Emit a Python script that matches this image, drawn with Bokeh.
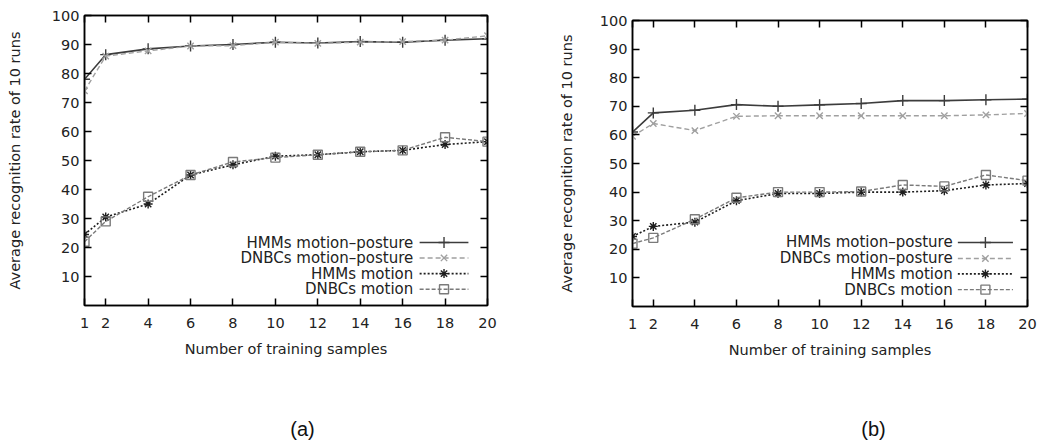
from bokeh.plotting import figure
from bokeh.layouts import row, column
from bokeh.models import FixedTicker, LinearAxis, Range1d, Label, Spacer, CustomJSTickFormatter
from bokeh.core.properties import value
from bokeh.embed import file_html
from bokeh.resources import INLINE

# ---------------- data ----------------
samples = [1, 2, 4, 6, 8, 10, 12, 14, 16, 18, 20]

# panel (a)
a_hmm_motion_posture = [78, 86.5, 88.5, 89.5, 90, 90.8, 90.5, 91, 90.8, 91.5, 92]
a_dnbc_motion_posture = [74, 86, 87.8, 89.5, 89.6, 90.8, 90.4, 90.8, 91, 91.5, 93]
a_hmm_motion = [24.5, 30.5, 35, 45, 48.5, 51.5, 52, 53, 53.5, 55.5, 56.5]
a_dnbc_motion = [22, 29, 37.5, 45, 49.5, 51, 52, 53, 53.5, 58, 56.5]

# panel (b)
b_hmm_motion_posture = [61, 67.7, 68.6, 70.6, 70, 70.5, 71, 72, 72, 72.3, 72.5]
b_dnbc_motion_posture = [59.5, 64, 61.5, 66.5, 66.7, 66.7, 66.7, 66.7, 66.7, 67, 67.5]
b_hmm_motion = [24.5, 28, 29.5, 37, 39.5, 39.5, 40, 40, 40.5, 42.5, 43]
b_dnbc_motion = [22, 24, 30.5, 38, 40, 40, 40.2, 42.5, 42, 46, 44]

series_names = ["HMMs motion–posture", "DNBCs motion–posture", "HMMs motion", "DNBCs motion"]
x_ticks = [1, 2, 4, 6, 8, 10, 12, 14, 16, 18, 20]
y_ticks = [10, 20, 30, 40, 50, 60, 70, 80, 90, 100]
x_label = "Number of training samples"
y_label = "Average recognition rate of 10 runs"
panel_tags = ["(a)", "(b)"]

# ---------------- styles ----------------
STYLES = [
    dict(color="#3c3c3c", dash="solid", marker="cross", size=11, width=1.6),
    dict(color="#a0a0a0", dash="5 3", marker="x", size=9, width=1.4),
    dict(color="#1e1e1e", dash="2 2", marker="asterisk", size=9, width=1.6),
    dict(color="#7a7a7a", dash="4 2", marker="square", size=9, width=1.4),
]
FONT = "DejaVu Sans"
TEXT_COLOR = "#222222"


def blank_formatter():
    return CustomJSTickFormatter(code="return ''")


def make_panel(series, lay):
    p = figure(width=lay["width"], height=lay["height"],
               min_border_left=lay["bl"], min_border_right=lay["br"],
               min_border_top=lay["bt"], min_border_bottom=lay["bb"],
               x_range=Range1d(1, 20), y_range=Range1d(0, 100),
               output_backend="svg", toolbar_location=None)
    p.background_fill_color = "white"
    p.border_fill_color = "white"
    p.outline_line_color = "black"
    p.outline_line_width = 1.5
    p.xgrid.visible = False
    p.ygrid.visible = False

    for ax, ticks in ((p.xaxis[0], x_ticks), (p.yaxis[0], y_ticks)):
        ax.ticker = FixedTicker(ticks=ticks)
        ax.major_tick_in = 7
        ax.major_tick_out = 0
        ax.minor_tick_line_color = None
        ax.axis_line_color = "black"
        ax.axis_line_width = 1.5
        ax.major_tick_line_color = "black"
        ax.major_tick_line_width = 1.5
        ax.major_label_text_font = FONT
        ax.major_label_text_font_size = "14.5px"
        ax.major_label_text_color = TEXT_COLOR
        ax.axis_label_text_font = FONT
        ax.axis_label_text_font_size = "14.5px"
        ax.axis_label_text_font_style = "normal"
        ax.axis_label_text_color = TEXT_COLOR
    p.xaxis[0].axis_label = x_label
    p.xaxis[0].major_label_standoff = 12
    p.xaxis[0].axis_label_standoff = 10
    p.yaxis[0].axis_label = y_label
    p.yaxis[0].major_label_standoff = 5
    p.yaxis[0].axis_label_standoff = lay["ylab_standoff"]

    # mirrored tick marks on top and right
    top = LinearAxis(ticker=FixedTicker(ticks=x_ticks), formatter=blank_formatter(),
                     major_tick_in=7, major_tick_out=0, minor_tick_line_color=None,
                     major_label_standoff=0, axis_line_width=1.5, major_tick_line_width=1.5)
    right = LinearAxis(ticker=FixedTicker(ticks=y_ticks), formatter=blank_formatter(),
                       major_tick_in=7, major_tick_out=0, minor_tick_line_color=None,
                       major_label_standoff=0, axis_line_width=1.5, major_tick_line_width=1.5)
    p.add_layout(top, "above")
    p.add_layout(right, "right")

    for ys, st in zip(series, STYLES):
        p.line(samples, ys, line_color=st["color"], line_dash=st["dash"], line_width=st["width"])
        p.scatter(samples, ys, marker=st["marker"], size=st["size"], line_color=st["color"],
                  fill_color=None, line_width=1.4)

    # legend (text right-aligned, sample on the right)
    for name, st, ly in zip(series_names, STYLES, lay["leg_y"]):
        p.add_layout(Label(x=lay["leg_text_x"], y=ly, text=name, text_align="right",
                           text_baseline="middle", text_font=FONT, text_font_size="15px",
                           text_color=TEXT_COLOR))
        p.line([lay["leg_x0"], lay["leg_x1"]], [ly, ly], line_color=st["color"],
               line_dash=st["dash"], line_width=st["width"])
        p.scatter([(lay["leg_x0"] + lay["leg_x1"]) / 2], [ly], marker=st["marker"],
                  size=st["size"], line_color=st["color"], fill_color=None, line_width=1.4)
    return p


def make_tag(text, width, cx):
    t = figure(width=width, height=48, x_range=Range1d(0, width), y_range=Range1d(0, 48),
               x_axis_type=None, y_axis_type=None, min_border=0,
               output_backend="svg", toolbar_location=None)
    t.outline_line_color = None
    t.background_fill_color = "white"
    t.border_fill_color = "white"
    t.text(x=[cx], y=[20], text=[text], text_align="center", text_baseline="middle",
           text_font=value("Liberation Sans"), text_font_size="20px", text_color="#111111")
    return t


LAYOUT_A = dict(width=528, height=400, bl=84, br=41, bt=15, bb=95, ylab_standoff=26,
                leg_text_x=16.5, leg_x0=16.8, leg_x1=19.1, leg_y=[21.7, 16.4, 11.0, 5.6])
LAYOUT_B = dict(width=511, height=395, bl=104, br=12, bt=15, bb=94, ylab_standoff=22,
                leg_text_x=16.4, leg_x0=16.65, leg_x1=19.3, leg_y=[22.4, 16.8, 11.4, 5.9])

pa = make_panel([a_hmm_motion_posture, a_dnbc_motion_posture, a_hmm_motion, a_dnbc_motion], LAYOUT_A)
pb = make_panel([b_hmm_motion_posture, b_dnbc_motion_posture, b_hmm_motion, b_dnbc_motion], LAYOUT_B)
ta = make_tag(panel_tags[0], 528, 302)
tb = make_tag(panel_tags[1], 511, 345)

layout = column(row(pa, column(Spacer(height=5, width=511), pb)), row(ta, tb))
open("out.html", "w").write(file_html(layout, INLINE))
